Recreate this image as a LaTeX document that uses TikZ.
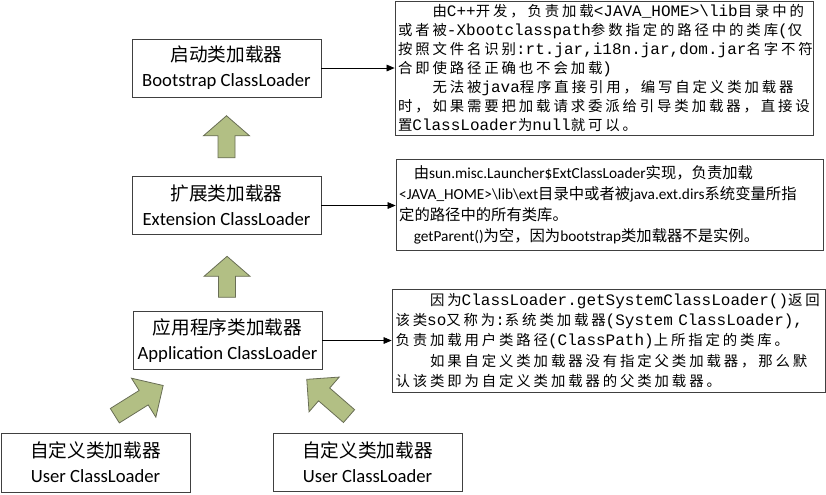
\documentclass[tikz,border=0pt]{standalone}
\usepackage{fontspec}
\setmainfont{Carlito}
\newfontfamily\cjkfont{Noto Sans CJK SC}
\newfontfamily\cjkwide[Scale=0.9,LetterSpace=20]{Noto Sans CJK SC}
\newfontfamily\monofont{Liberation Mono}
\newcommand{\hz}[1]{{\cjkfont #1}}
\newcommand{\hzw}[1]{{\cjkwide #1}}
\definecolor{arrowgreen}{RGB}{178,191,132}
\definecolor{arrowedge}{RGB}{105,110,85}
\definecolor{boxedge}{RGB}{64,64,64}
\usetikzlibrary{calc, positioning, arrows.meta}
\tikzset{
  loader/.style={draw=boxedge, fill=white, line width=0.6pt, minimum width=141.75pt, minimum height=43.5pt,
    align=center, inner sep=0pt, font=\fontsize{14}{18.75}\selectfont},
  note/.style={draw=boxedge, fill=white, line width=0.6pt, align=left, inner xsep=2pt, inner ysep=0pt},
  fatarrow/.style={draw=arrowedge, fill=arrowgreen, line width=0.6pt, line join=miter},
  link/.style={-{Triangle[length=6pt,width=5pt]}, line width=0.5pt},
}
% block arrow: centre, angle, length, head length
\newcommand{\greenarrow}[4]{%
  \draw[fatarrow, shift={(#1)}, rotate=#2]
    (-#3/2,-8.5) -- (#3/2-#4,-8.5) -- (#3/2-#4,-23) -- (#3/2,0)
    -- (#3/2-#4,23) -- (#3/2-#4,8.5) -- (-#3/2,8.5) -- cycle;}
\begin{document}
\begin{tikzpicture}[x=0.75pt,y=-0.75pt]
  \useasboundingbox (0,0) rectangle (826,494);
  % class loaders
  \node[loader] (boot) at (226.5,68) {\hz{启动类加载器}\\Bootstrap ClassLoader};
  \node[loader] (ext) at (226.5,205.5) {\hz{扩展类加载器}\\Extension ClassLoader};
  \node[loader] (app) at (227.5,340.5) {\hz{应用程序类加载器}\\Application ClassLoader};
  \node[loader, minimum height=44.25pt] (user1) at (95.5,462.5) {\hz{自定义类加载器}\\User ClassLoader};
  \node[loader, minimum height=43.5pt] (user2) at (367.5,462) {\hz{自定义类加载器}\\User ClassLoader};

  % notes
  \node[note, minimum width=313.5pt, minimum height=100.5pt, text width=309pt,
    font=\monofont\fontsize{12}{14.25}\selectfont] (bootnote) at (604,68) {%
    \hzw{　　由}C++\hzw{开发，负责加载}<JAVA\_HOME>\textbackslash lib\hzw{目录中的}\\
    \hzw{或者被}-Xbootclasspath\hzw{参数指定的路径中的类库}(\hzw{仅}\\
    \hzw{按照文件名识别}:rt.jar,i18n.jar,dom.jar\hzw{名字不符}\\
    \hzw{合即使路径正确也不会加载})\\
    \hzw{　　无法被}java\hzw{程序直接引用，编写自定义类加载器}\\
    \hzw{时，如果需要把加载请求委派给引导类加载器，直接设}\\
    \hzw{置}ClassLoader\hzw{为}null\hzw{就可以。}};
  \node[note, minimum width=320.25pt, minimum height=68.25pt, text width=315.5pt,
    font=\fontsize{11.5}{15.75}\selectfont] (extnote) at (609.5,204.5) {%
    \hspace*{11pt}\hz{由}sun.misc.Launcher\$ExtClassLoader\hz{实现，负责加载}\\
    <JAVA\_HOME>\textbackslash lib\textbackslash ext\hz{目录中或者被}java.ext.dirs\hz{系统变量所指}\\
    \hz{定的路径中的所有类库。}\\
    \hspace*{11pt}getParent()\hz{为空，因为}bootstrap\hz{类加载器不是实例。}};
  \node[note, minimum width=324.75pt, minimum height=77.25pt, text width=319.5pt,
    font=\monofont\fontsize{12}{15.2}\selectfont] (appnote) at (608.5,340.5) {%
    \hzw{　　因为}ClassLoader.getSystemClassLoader()\hzw{返回}\\
    \hzw{该类}so\hzw{又称为}:\hzw{系统类加载器}(System ClassLoader),\\
    \hzw{负责加载用户类路径}(ClassPath)\hzw{上所指定的类库。}\\
    \hzw{　　如果自定义类加载器没有指定父类加载器，那么默}\\
    \hzw{认该类即为自定义类加载器的父类加载器。}};

  % links to notes
  \draw[link] (boot.east) -- (boot.east -| bootnote.west);
  \draw[link] (ext.east) -- (ext.east -| extnote.west);
  \draw[link] (app.east) -- (app.east -| appnote.west);

  % delegation arrows
  \coordinate (up1) at ($(boot.south)!0.5!(ext.north)$);
  \coordinate (up2) at ($(ext.south)!0.55!(app.north)$);
  \coordinate (diag1) at (139,400.6);
  \coordinate (diag2) at (327.9,397.7);
  \greenarrow{up1}{90}{42}{20}
  \greenarrow{up2}{90}{41}{20}
  \greenarrow{diag1}{32}{57}{23}
  \greenarrow{diag2}{139}{56}{23}
\end{tikzpicture}
\end{document}
